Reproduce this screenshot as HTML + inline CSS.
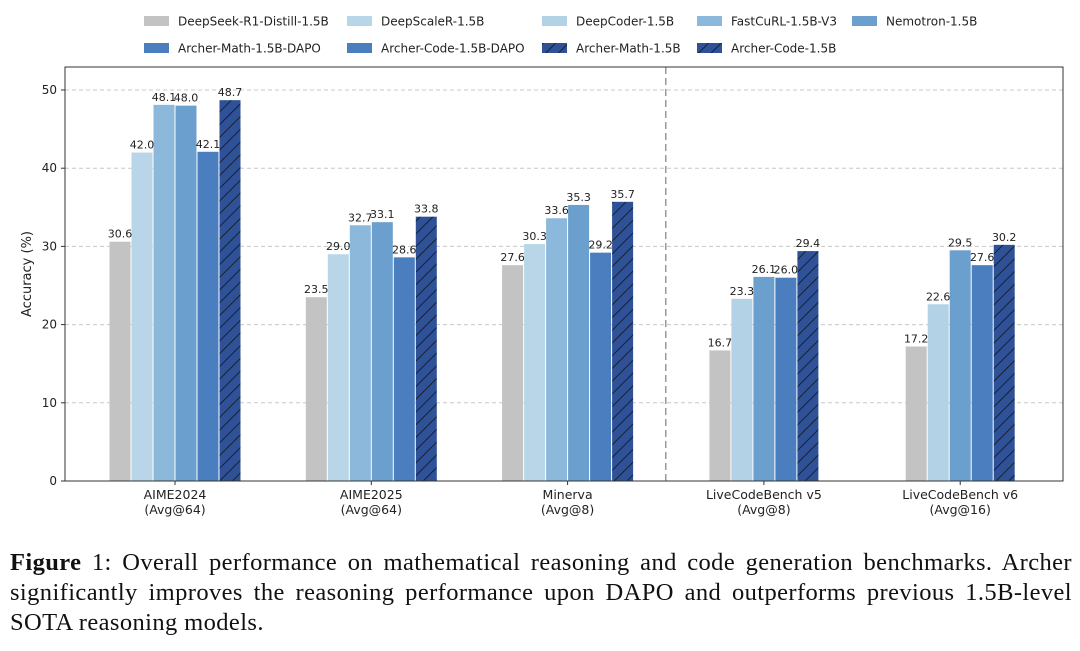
<!DOCTYPE html>
<html><head><meta charset="utf-8"><style>
body{margin:0;background:#fff;width:1080px;height:651px;overflow:hidden;font-family:"DejaVu Sans",sans-serif}
.cap{position:absolute;left:10px;top:548px;width:1062px;font-family:"Liberation Serif",serif;font-size:24.5px;line-height:30px;color:#111;letter-spacing:0.4px}
.cap .j{text-align:justify;text-align-last:justify;white-space:nowrap}
</style></head><body>
<svg id="chart" width="1080" height="540" style="position:absolute;left:0;top:0" font-family="DejaVu Sans, sans-serif">
<defs><pattern id="hatch" patternUnits="userSpaceOnUse" width="9" height="9" patternTransform="rotate(45)"><rect width="9" height="9" fill="#2e5197"/><line x1="0" y1="0" x2="0" y2="9" stroke="#111" stroke-width="1.5"/></pattern></defs>
<g id="grid"></g><g id="bars"></g><g id="axes"></g><g id="legend"></g>
</svg>
<div class="cap"><div class="j"><b>Figure</b> 1: Overall performance on mathematical reasoning and code generation benchmarks. Archer</div><div class="j">significantly improves the reasoning performance upon DAPO and outperforms previous 1.5B-level</div><div>SOTA reasoning models.</div></div>
<script>
const categories=["AIME2024\n(Avg@64)","AIME2025\n(Avg@64)","Minerva\n(Avg@8)","LiveCodeBench v5\n(Avg@8)","LiveCodeBench v6\n(Avg@16)"];
const mathSeries=["DeepSeek-R1-Distill-1.5B","DeepScaleR-1.5B","FastCuRL-1.5B-V3","Nemotron-1.5B","Archer-Math-1.5B-DAPO","Archer-Math-1.5B"];
const codeSeries=["DeepSeek-R1-Distill-1.5B","DeepCoder-1.5B","Nemotron-1.5B","Archer-Code-1.5B-DAPO","Archer-Code-1.5B"];
const mathValues=[[30.6,42.0,48.1,48.0,42.1,48.7],[23.5,29.0,32.7,33.1,28.6,33.8],[27.6,30.3,33.6,35.3,29.2,35.7]];
const codeValues=[[16.7,23.3,26.1,26.0,29.4],[17.2,22.6,29.5,27.6,30.2]];
const yTicks=[0,10,20,30,40,50];
const colors={"DeepSeek-R1-Distill-1.5B":"#c3c3c3","DeepScaleR-1.5B":"#b9d6e8","DeepCoder-1.5B":"#b3d2e6","FastCuRL-1.5B-V3":"#8bb8db","Nemotron-1.5B":"#6b9fcd","Archer-Math-1.5B-DAPO":"#4a7ebf","Archer-Code-1.5B-DAPO":"#4a7ebf","Archer-Math-1.5B":"url(#hatch)","Archer-Code-1.5B":"url(#hatch)"};
const legendItems=[["DeepSeek-R1-Distill-1.5B",144,21],["DeepScaleR-1.5B",347,21],["DeepCoder-1.5B",542,21],["FastCuRL-1.5B-V3",697,21],["Nemotron-1.5B",852,21],["Archer-Math-1.5B-DAPO",144,48],["Archer-Code-1.5B-DAPO",347,48],["Archer-Math-1.5B",542,48],["Archer-Code-1.5B",697,48]];
const NS="http://www.w3.org/2000/svg";
const L=65,R=1063,T=67,B=481;
const y=v=>B-v*(B-90)/50;
const xc=i=>175+i*196.3;
const BW=22;
function mk(p,t,a){const e=document.createElementNS(NS,t);for(const k in a)e.setAttribute(k,a[k]);p.appendChild(e);return e;}
const grid=document.getElementById('grid'),bars=document.getElementById('bars'),axes=document.getElementById('axes'),leg=document.getElementById('legend');
yTicks.forEach(v=>{
 if(v>0){const g=mk(grid,'line',{x1:L,x2:R,y1:y(v),y2:y(v),stroke:'#c8c8c8','stroke-dasharray':'4,3','stroke-width':1});
 
 }
 mk(axes,'line',{x1:L-4,x2:L,y1:y(v),y2:y(v),stroke:'#333'});
 const t=mk(axes,'text',{x:L-8,y:y(v)+4,'text-anchor':'end','font-size':12,fill:'#222'});t.textContent=v;
 
 
});
function drawGroup(ci,names,vals){
 const n=vals.length,x0=xc(ci)-n*BW/2;
 vals.forEach((v,j)=>{
  const r=mk(bars,'rect',{x:x0+j*BW+0.5,y:y(v),width:BW-1,height:B-y(v),fill:colors[names[j]]});
  
  
  const t=mk(bars,'text',{x:x0+j*BW+BW/2,y:y(v)-4,'text-anchor':'middle','font-size':11,fill:'#222'});t.textContent=v.toFixed(1);
  
  
 });
}
mathValues.forEach((vals,i)=>drawGroup(i,mathSeries,vals));
codeValues.forEach((vals,i)=>drawGroup(i+3,codeSeries,vals));
mk(axes,'line',{x1:(xc(2)+xc(3))/2,x2:(xc(2)+xc(3))/2,y1:T,y2:B,stroke:'#999','stroke-dasharray':'7,4','stroke-width':1.5});
const fr=mk(axes,'rect',{x:L,y:T,width:R-L,height:B-T,fill:'none',stroke:'#333','stroke-width':1});


categories.forEach((c,i)=>{
 mk(axes,'line',{x1:xc(i),x2:xc(i),y1:B,y2:B+4,stroke:'#333'});
 c.split('\n').forEach((s,k)=>{const t=mk(axes,'text',{x:xc(i),y:B+18+k*15,'text-anchor':'middle','font-size':12.5,fill:'#222'});t.textContent=s;
 
 });
});
const yt=mk(axes,'text',{x:0,y:0,transform:`translate(31,${(T+B)/2}) rotate(-90)`,'text-anchor':'middle','font-size':13,fill:'#222'});yt.textContent='Accuracy (%)';


legendItems.forEach(([n,lx,ly])=>{
 const g=mk(leg,'g',{});
 
 
 mk(g,'rect',{x:lx,y:ly-5,width:25,height:10,fill:colors[n]});
 const t=mk(g,'text',{x:lx+34,y:ly+4.5,'font-size':12,fill:'#222'});t.textContent=n;
});
</script>
</body></html>
